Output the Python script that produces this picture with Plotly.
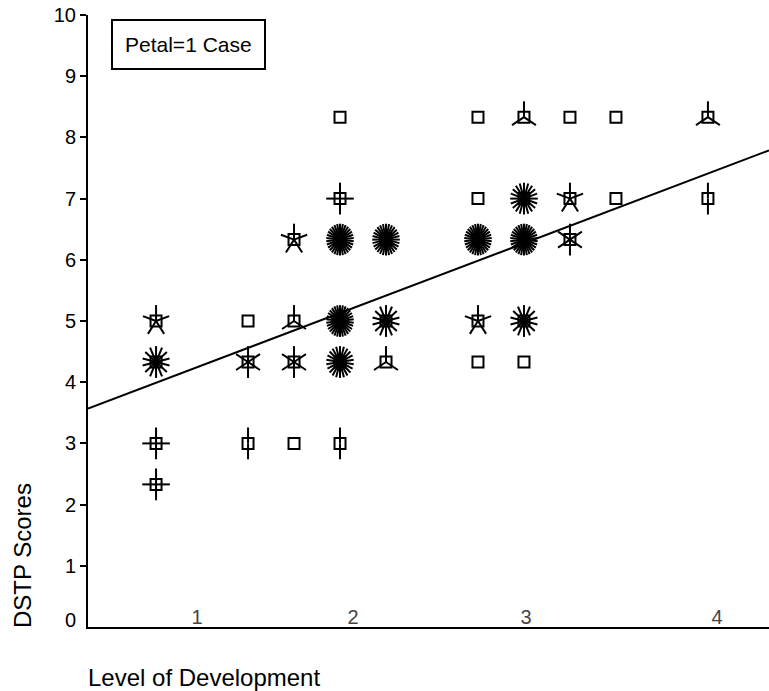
import numpy as np
import plotly.graph_objects as go

# ---- data (sunflower plot: each point = (level, score) with number of cases) ----
level = [1.0, 1.0, 1.0, 1.0,
         1.5, 1.5, 1.5,
         1.75, 1.75, 1.75, 1.75,
         2.0, 2.0, 2.0, 2.0, 2.0, 2.0,
         2.25, 2.25, 2.25,
         2.75, 2.75, 2.75, 2.75, 2.75,
         3.0, 3.0, 3.0, 3.0, 3.0,
         3.25, 3.25, 3.25,
         3.5, 3.5,
         4.0, 4.0]
score = [5.0, 4.33, 3.0, 2.33,
         5.0, 4.33, 3.0,
         6.33, 5.0, 4.33, 3.0,
         8.33, 7.0, 6.33, 5.0, 4.33, 3.0,
         6.33, 5.0, 4.33,
         8.33, 7.0, 6.33, 5.0, 4.33,
         8.33, 7.0, 6.33, 5.0, 4.33,
         8.33, 7.0, 6.33,
         8.33, 7.0,
         8.33, 7.0]
cases = [5, 14, 4, 4,
         1, 6, 2,
         5, 3, 6, 1,
         1, 4, 30, 30, 22, 2,
         28, 14, 3,
         1, 1, 30, 5, 1,
         3, 20, 30, 14, 1,
         1, 5, 6,
         1, 1,
         3, 2]

# regression line  score = a + b * level
fit_intercept = 2.85
fit_slope = 1.14

x_tick_vals = [1.223, 2.071, 3.011, 4.049]
x_tick_text = ["1", "2", "3", "4"]
y_tick_vals = list(range(1, 11))

x_range = [0.630, 4.332]
y_range = [0, 10]

# petal length in data units (x, y)
petal_rx = 0.075
petal_ry = 0.26

# ---- build petals ----
px, py = [], []
for xv, yv, n in zip(level, score, cases):
    if n < 2:
        continue
    for k in range(n):
        ang = np.pi / 2 + 2 * np.pi * k / n
        px += [xv, xv + petal_rx * np.cos(ang), None]
        py += [yv, yv + petal_ry * np.sin(ang), None]

fig = go.Figure()
fig.add_trace(go.Scatter(x=px, y=py, mode="lines",
                         line=dict(color="black", width=2),
                         hoverinfo="skip", showlegend=False))
fig.add_trace(go.Scatter(x=level, y=score, mode="markers",
                         marker=dict(symbol="square-open", size=11,
                                     color="black", line=dict(width=2, color="black")),
                         showlegend=False))
lx = np.array(x_range)
fig.add_trace(go.Scatter(x=lx, y=fit_intercept + fit_slope * lx, mode="lines",
                         line=dict(color="black", width=2), showlegend=False))

font_family = "Liberation Sans, Arial, sans-serif"

fig.update_layout(
    width=769, height=691,
    margin=dict(l=88, r=0, t=15, b=64),
    paper_bgcolor="white", plot_bgcolor="white",
    font=dict(family=font_family, size=20, color="black"),
    xaxis=dict(range=x_range, showgrid=False, zeroline=False,
               showline=True, linecolor="black", linewidth=2,
               tickvals=x_tick_vals, ticktext=x_tick_text, ticks="",
               ticklabelposition="inside", tickfont=dict(size=20)),
    yaxis=dict(range=y_range, showgrid=False, zeroline=False,
               showline=True, linecolor="black", linewidth=2,
               tickvals=y_tick_vals, ticks="outside", ticklen=6, tickwidth=2,
               tickcolor="black", tickfont=dict(size=20)),
    annotations=[
        dict(text="0", xref="paper", yref="paper",
             x=-10 / 681, y=(627 - 620) / 612, xanchor="right", yanchor="middle",
             showarrow=False, font=dict(size=20)),
        dict(text="Petal=1 Case", xref="paper", yref="paper",
             x=(111 - 88) / 681, y=1 - (19 - 15) / 612, xanchor="left", yanchor="top",
             showarrow=False, font=dict(size=21), bordercolor="black",
             borderwidth=2, borderpad=12, bgcolor="white"),
        dict(text="DSTP Scores", xref="paper", yref="paper",
             x=(22 - 88) / 681, y=(627 - 556) / 612, xanchor="center", yanchor="middle",
             textangle=-90, showarrow=False, font=dict(size=24)),
        dict(text="Level of Development", xref="paper", yref="paper",
             x=(86 - 88) / 681, y=-(677 - 627) / 612, xanchor="left", yanchor="middle",
             showarrow=False, font=dict(size=24)),
    ],
)

fig.write_html("out.html")
